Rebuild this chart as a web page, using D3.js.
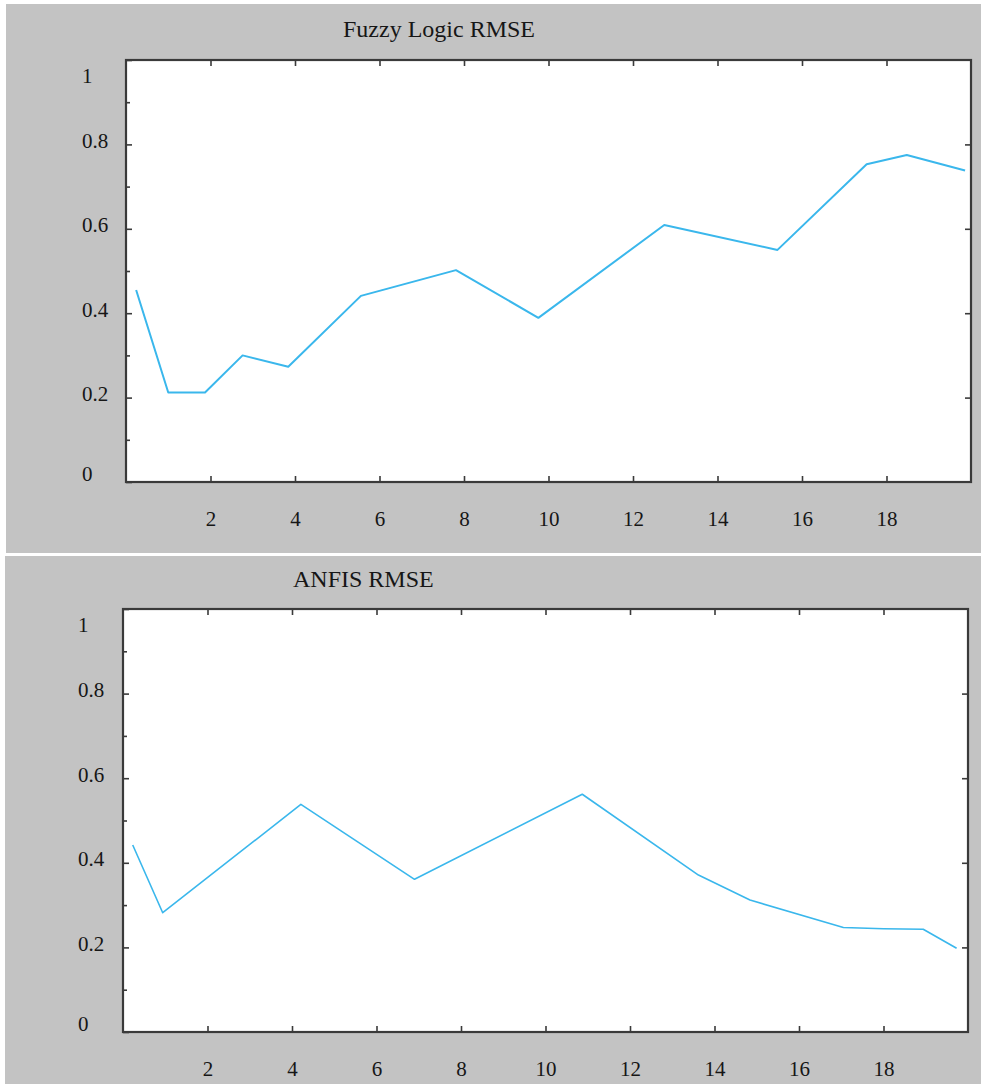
<!DOCTYPE html>
<html>
<head>
<meta charset="utf-8">
<script src="https://cdn.jsdelivr.net/npm/d3@7"></script>
<style>
  html, body { margin: 0; padding: 0; background: #ffffff; }
  svg { display: block; }
  text { font-family: "Liberation Serif", "Times New Roman", serif; fill: #161616; }
</style>
</head>
<body>
<svg id="chart" width="981" height="1084"></svg>
<script>
// Iteration index (x) and RMSE readings for each model
const fuzzyIter = [0.24, 1.0, 1.87, 2.76, 3.84, 5.56, 7.81, 9.76, 12.74, 15.42, 17.53, 18.48, 19.86];
const fuzzyRmse = [0.455, 0.212, 0.212, 0.300, 0.273, 0.441, 0.502, 0.389, 0.609, 0.550, 0.753, 0.775, 0.738];

const anfisIter = [0.23, 0.94, 4.21, 6.90, 10.87, 13.62, 14.84, 17.05, 18.0, 18.94, 19.73];
const anfisRmse = [0.442, 0.282, 0.538, 0.361, 0.562, 0.371, 0.312, 0.247, 0.244, 0.243, 0.198];

// Axis ticks
const xTickValues = [2, 4, 6, 8, 10, 12, 14, 16, 18];
const yTickValues = [0, 0.2, 0.4, 0.6, 0.8, 1];
const yMinorTicks = [0.1, 0.3, 0.5, 0.7, 0.9];

const titles = ["Fuzzy Logic RMSE", "ANFIS RMSE"];

const svg = d3.select("#chart");
const frameColor = "#3a3a3a";
const lineColor = "#3ab7ec";
const labelSize = 21;

function drawPanel(opts) {
  const g = svg.append("g");

  // gray panel background
  g.append("rect")
    .attr("x", opts.panel[0]).attr("y", opts.panel[1])
    .attr("width", opts.panel[2]).attr("height", opts.panel[3])
    .attr("fill", "#c3c3c3");

  const x = d3.scaleLinear().domain([0, 20]).range([opts.left, opts.right]);
  const y = d3.scaleLinear().domain([0, 1]).range([opts.bottom, opts.top]);

  // plot area
  g.append("rect")
    .attr("x", opts.left).attr("y", opts.top)
    .attr("width", opts.right - opts.left).attr("height", opts.bottom - opts.top)
    .attr("fill", "#ffffff");

  const tickStyle = sel => {
    sel.select(".domain").remove();
    sel.selectAll(".tick line").attr("stroke", frameColor).attr("stroke-width", 1.6);
  };

  // bottom axis: inward ticks and labels below
  const xb = g.append("g")
    .attr("transform", `translate(0,${opts.bottom})`)
    .call(d3.axisBottom(x).tickValues(xTickValues).tickSizeInner(-6).tickSizeOuter(0).tickFormat(d3.format("d")))
    .call(tickStyle);
  xb.selectAll(".tick text")
    .attr("y", 44).attr("dy", 0)
    .attr("font-size", labelSize)
    .attr("font-family", "Liberation Serif, serif")
    .attr("fill", "#161616");

  // top axis: ticks only
  g.append("g")
    .attr("transform", `translate(0,${opts.top})`)
    .call(d3.axisTop(x).tickValues(xTickValues).tickSizeInner(-6).tickSizeOuter(0).tickFormat(""))
    .call(tickStyle);

  // left axis: inward major ticks with labels
  const yl = g.append("g")
    .attr("transform", `translate(${opts.left},0)`)
    .call(d3.axisLeft(y).tickValues(yTickValues).tickSizeInner(-6).tickSizeOuter(0).tickFormat(d3.format("")))
    .call(tickStyle);
  yl.selectAll(".tick text")
    .attr("x", opts.labelX - opts.left)
    .attr("text-anchor", "start")
    .attr("dy", d => d === 1 ? "1.05em" : d === 0 ? "-0.05em" : "0.15em")
    .attr("font-size", labelSize)
    .attr("font-family", "Liberation Serif, serif")
    .attr("fill", "#161616");

  // left axis minor ticks
  g.append("g")
    .attr("transform", `translate(${opts.left},0)`)
    .call(d3.axisLeft(y).tickValues(yMinorTicks).tickSizeInner(-4).tickSizeOuter(0).tickFormat(""))
    .call(tickStyle);

  // right axis: inward ticks only
  g.append("g")
    .attr("transform", `translate(${opts.right},0)`)
    .call(d3.axisRight(y).tickValues([0.2, 0.4, 0.6, 0.8]).tickSizeInner(-6).tickSizeOuter(0).tickFormat(""))
    .call(tickStyle);

  // frame
  g.append("rect")
    .attr("x", opts.left).attr("y", opts.top)
    .attr("width", opts.right - opts.left).attr("height", opts.bottom - opts.top)
    .attr("fill", "none")
    .attr("stroke", frameColor)
    .attr("stroke-width", 2.2);

  // RMSE line
  const line = d3.line().x(d => x(d[0])).y(d => y(d[1]));
  g.append("path")
    .datum(d3.zip(opts.xs, opts.ys))
    .attr("d", line)
    .attr("fill", "none")
    .attr("stroke", lineColor)
    .attr("stroke-width", opts.lineWidth)
    .attr("stroke-linejoin", "round");

  // title
  g.append("text")
    .attr("x", opts.titleX).attr("y", opts.titleY)
    .attr("font-size", 24)
    .text(opts.title);
}

drawPanel({
  panel: [6, 4, 975, 549],
  left: 126, right: 971, top: 60, bottom: 482,
  labelX: 82,
  xs: fuzzyIter, ys: fuzzyRmse,
  lineWidth: 2,
  title: titles[0], titleX: 343, titleY: 37
});

drawPanel({
  panel: [5, 556, 976, 528],
  left: 123, right: 968, top: 609, bottom: 1032,
  labelX: 78,
  xs: anfisIter, ys: anfisRmse,
  lineWidth: 1.6,
  title: titles[1], titleX: 293, titleY: 587
});
</script>
</body>
</html>
